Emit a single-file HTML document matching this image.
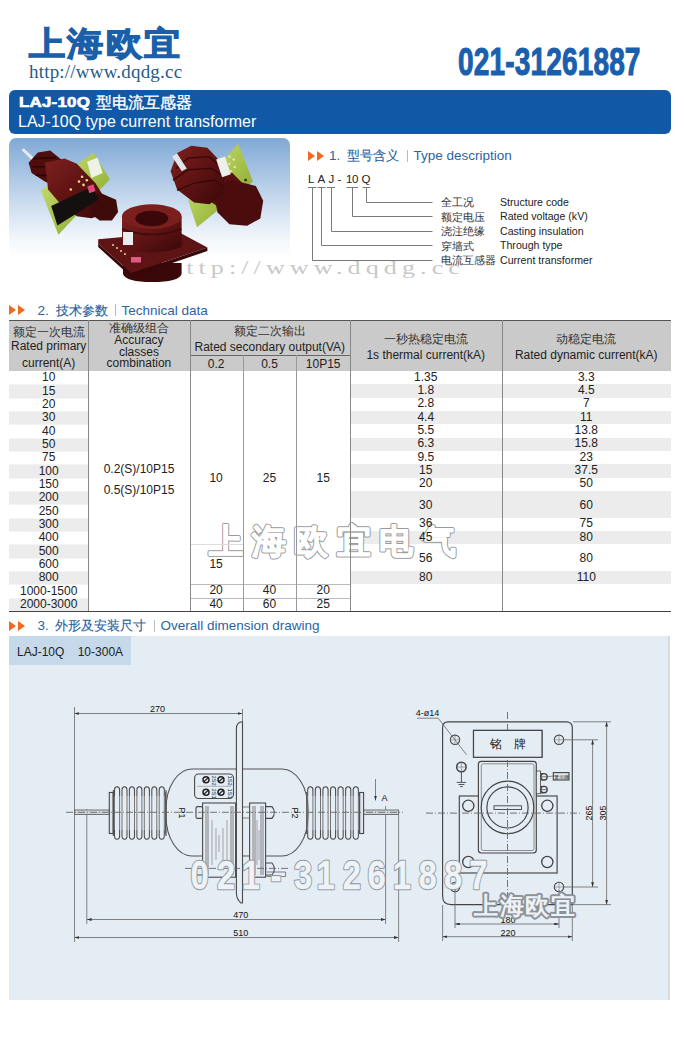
<!DOCTYPE html>
<html><head><meta charset="utf-8">
<style>
*{margin:0;padding:0;box-sizing:border-box}
html,body{width:680px;height:1050px;background:#fff;overflow:hidden}
body{position:relative;font-family:"Liberation Sans",sans-serif;color:#222}
.a{position:absolute;white-space:nowrap}
.c{text-align:center;font-size:12px;color:#222}
#logo{left:29px;top:21.5px;font-size:35px;font-weight:bold;color:#1c5fa9;letter-spacing:2.5px;line-height:46px;transform-origin:0 0;transform:scale(1.02,0.93);-webkit-text-stroke:1.3px #1c5fa9}
#url{left:29px;top:61px;font-family:"Liberation Serif",serif;font-size:19px;color:#2a5a8a;line-height:22px;letter-spacing:0.2px}
#phone{left:457.5px;top:38px;font-size:39.5px;font-weight:bold;color:#1a5fae;line-height:46px;transform-origin:0 0;transform:scaleX(0.71);-webkit-text-stroke:1.1px #1a5fae;letter-spacing:0.2px}
#bar{left:9px;top:90px;width:662px;height:44px;background:#1158a6;border-radius:6px}
#t1{left:18.5px;top:91.5px;font-size:15.5px;font-weight:bold;color:#fff;line-height:20px;letter-spacing:0.2px;-webkit-text-stroke:0.7px #fff;transform-origin:0 0;transform:scaleX(1.09)}
#t1c{left:96px;top:93.3px;font-size:16px;color:#fff;line-height:20px;-webkit-text-stroke:0.35px #fff}
#t2{left:18px;top:112px;font-size:16px;color:#fff;line-height:20px}
.sec{font-size:13.5px;color:#2a64a4;line-height:16px}
.secz{font-size:13.3px;color:#2a5f9e;line-height:16px;-webkit-text-stroke:0.15px #2a5f9e}
.bar1{width:1px;height:12px;background:#b5bcc4}
.arr{position:absolute;width:0;height:0;border-top:5px solid transparent;border-bottom:5px solid transparent;border-left:7.5px solid #f06a20}
.lblz{font-size:10.6px;color:#333;line-height:14px}
.lble{font-size:10.6px;color:#222;line-height:14px}

</style></head><body>
<div class="a" id="logo">上海欧宜</div>
<div class="a" id="url">http://www.dqdg.cc</div>
<div class="a" id="phone">021-31261887</div>
<div class="a" id="bar"></div>
<div class="a" id="t1">LAJ-10Q</div>
<div class="a" id="t1c">型电流互感器</div>
<div class="a" id="t2">LAJ-10Q type current transformer</div>
<div class="a" style="left:9px;top:138px;width:281px;height:120px;border-radius:7px 7px 0 0;background:linear-gradient(#80a9d5 0%,#a9c5e4 30%,#d3e2f1 60%,#f3f7fb 85%,#fff 100%)"></div>
<div class="a" style="left:168px;top:255px;font-family:'Liberation Serif',serif;font-size:18px;color:#c8c8c8;line-height:26px;letter-spacing:3.5px;transform-origin:0 0;transform:scaleX(1.45)">http://www.dqdg.cc</div>
<svg class="a" style="left:0;top:130px" width="300" height="170" viewBox="0 130 300 170">
<defs>
<linearGradient id="rd" x1="0" y1="0" x2="1" y2="1"><stop offset="0" stop-color="#7e2020"/><stop offset="0.45" stop-color="#621414"/><stop offset="1" stop-color="#3a0808"/></linearGradient>
<linearGradient id="rd2" x1="0" y1="0" x2="0" y2="1"><stop offset="0" stop-color="#6e1a1a"/><stop offset="1" stop-color="#3a0808"/></linearGradient>
<linearGradient id="gp" x1="0" y1="0" x2="1" y2="1"><stop offset="0" stop-color="#d4e48a"/><stop offset="0.5" stop-color="#a8c44c"/><stop offset="1" stop-color="#7e9a2a"/></linearGradient>
</defs>
<!-- left transformer -->
<g>
<path d="M40.9 190.5 93.4 152.4 109.9 179.2 58.4 234.8 Z" fill="url(#gp)" />
<path d="M87.2 161.7 97.5 157.6 102.7 173.0 91.4 178.1 Z" fill="#eef2e6" />
<path d="M21.4 149.9 23.8 148.3 35.8 159.6 33.3 161.7 Z" fill="#e2e8ee" />
<path d="M28.6 162.7 37.8 152.4 50.2 150.4 62.5 160.6 65.6 175.1 58.4 184.3 46.1 182.3 31.6 173.0 Z" fill="#4e0e0e" />
<path d="M33.7 158.6 56.4 157.6 M32.7 166.8 60.5 166.8 M35.8 175.1 61.5 176.1" stroke="#2a0505" stroke-width="1.6" fill="none"/>
<path d="M45.0 162.7 64.6 158.6 76.9 163.7 95.5 183.3 105.8 199.8 103.7 214.2 91.4 218.3 76.9 216.2 60.5 203.9 48.1 189.5 Z" fill="url(#rd)" />
<path d="M87.2 195.6 101.6 193.6 116.1 199.8 118.1 212.1 111.9 220.4 99.6 220.4 91.4 214.2 Z" fill="#3e0a0a" />
<path d="M51.2 205.9 92.4 186.4 98.6 199.8 57.4 225.5 Z" fill="#141010" />
<path d="M87.2 186.4 93.4 184.3 95.5 191.1 89.3 193.2 Z" fill="#e04a78" />
<circle cx="82.1" cy="176.7" r="1.3" fill="#f0d890"/>
<circle cx="86.8" cy="180.2" r="1.3" fill="#f0d890"/>
<circle cx="79.0" cy="181.6" r="1.3" fill="#f0d890"/>
<circle cx="83.5" cy="184.9" r="1.3" fill="#f0d890"/>
<circle cx="70.8" cy="189.5" r="1.3" fill="#f0d890"/>
</g>
<!-- right transformer -->
<g>
<path d="M188.2 200.7 238.2 143.4 252.9 181.6 197.1 227.2 Z" fill="url(#gp)" />
<path d="M201.5 185.4 217.9 168.9 232.4 173.0 246.8 187.4 236.5 205.9 220.0 208.0 207.6 199.8 Z" fill="#5a1010"/>
<path d="M211.8 186.0 232.4 180.1 255.9 186.0 263.2 200.7 260.3 218.4 247.1 225.7 229.4 224.2 217.6 212.5 Z" fill="#4a0c0c" />
<path d="M170.6 171.3 177.1 153.1 191.2 145.7 207.4 147.8 217.1 158.1 225.0 177.2 222.1 194.8 209.4 204.2 194.1 202.5 177.1 189.5 Z" fill="url(#rd)" />
<path d="M175.9 168.4 188.2 158.1 208.8 156.6 217.6 163.9 M172.9 180.1 188.2 169.8 211.8 168.4 222.1 175.7 M177.1 190.4 194.1 183.1 214.7 180.1 223.5 187.5" stroke="#3a0808" stroke-width="1.4" fill="none"/>
<path d="M216.2 159.5 225.0 156.6 230.9 174.2 222.1 177.2 Z" fill="#eef0ec" />
<path d="M172.1 156.6 177.1 153.6 186.8 168.4 181.8 171.3 Z" fill="#dfe4e8" />
<circle cx="229.4" cy="156.6" r="1.2" fill="#e8e0c0"/>
<circle cx="233.8" cy="159.5" r="1.2" fill="#e8e0c0"/>
<circle cx="229.4" cy="163.9" r="1.2" fill="#e8e0c0"/>
<circle cx="234.7" cy="166.9" r="1.2" fill="#e8e0c0"/>
<circle cx="230.9" cy="171.3" r="1.2" fill="#e8e0c0"/>
<circle cx="245.6" cy="180.1" r="1.5" fill="#3a3a20"/>
</g>
<!-- center transformer -->
<g>
<path d="M123 263 L123 274 Q126 282 152 282 Q179 282 181.6 274 L181.6 263 Z" fill="#3a0808"/>
<path d="M98.2 239.3 L178.5 232 L207.4 247.5 L131.2 273.2 L98.2 243.4 Z" fill="#5e1414"/>
<path d="M98.2 243.4 L131.2 273.2 L207.4 247.5 L207.4 251 L131.2 277 L98.2 247 Z" fill="#380808"/>
<path d="M122 217 L122 247 Q152 258 181.6 247 L181.6 217 Z" fill="url(#rd)"/>
<path d="M122 229 Q152 240 181.6 229" stroke="#3e0a0a" stroke-width="1.5" fill="none"/>
<ellipse cx="151.8" cy="216.6" rx="29.9" ry="12.4" fill="#7a1e1e"/>
<ellipse cx="151.8" cy="218.5" rx="16.5" ry="7.8" fill="#3a0808"/>
<rect x="123" y="232" width="10" height="13" fill="#e8ecee"/>
<rect x="131" y="257" width="10" height="5.5" fill="#e05a82"/>
<circle cx="113" cy="245" r="1" fill="#e8d0a0"/><circle cx="117" cy="248" r="1" fill="#e8d0a0"/><circle cx="121" cy="251" r="1" fill="#e8d0a0"/><circle cx="125" cy="254" r="1" fill="#e8d0a0"/>
</g>
</svg>
<div class="arr" style="left:308px;top:150.5px"></div><div class="arr" style="left:316.5px;top:150.5px"></div>
<div class="a sec" style="left:329px;top:148px">1.</div>
<div class="a secz" style="left:347px;top:148px">型号含义</div>
<div class="a bar1" style="left:406.5px;top:150px"></div>
<div class="a sec" style="left:413.5px;top:148px">Type description</div>

<div class="arr" style="left:9px;top:304.5px"></div><div class="arr" style="left:17.5px;top:304.5px"></div>
<div class="a sec" style="left:37.5px;top:302.5px">2.</div>
<div class="a secz" style="left:55.5px;top:302.5px">技术参数</div>
<div class="a bar1" style="left:114.5px;top:304px"></div>
<div class="a sec" style="left:121.5px;top:302.5px">Technical data</div>

<div class="arr" style="left:9px;top:620.5px"></div><div class="arr" style="left:17.5px;top:620.5px"></div>
<div class="a sec" style="left:37.5px;top:618px">3.</div>
<div class="a secz" style="left:54.5px;top:618px">外形及安装尺寸</div>
<div class="a bar1" style="left:154px;top:619.5px"></div>
<div class="a sec" style="left:160.5px;top:618px">Overall dimension drawing</div>
<div class="a" style="left:308px;top:172px;font-size:11.5px;color:#222;line-height:14px">L</div>
<div class="a" style="left:317.5px;top:172px;font-size:11.5px;color:#222;line-height:14px">A</div>
<div class="a" style="left:328.5px;top:172px;font-size:11.5px;color:#222;line-height:14px">J</div>
<div class="a" style="left:337.5px;top:172px;font-size:11.5px;color:#222;line-height:14px">-</div>
<div class="a" style="left:346px;top:172px;font-size:11.5px;color:#222;line-height:14px;letter-spacing:-0.3px">10</div>
<div class="a" style="left:361.5px;top:172px;font-size:11.5px;color:#222;line-height:14px">Q</div>
<svg class="a" style="left:0;top:0" width="680" height="300">
<g stroke="#7a7a7a" stroke-width="1" fill="none">
<path d="M308 187.5H316M312.5 187.5V260.5H432.5"/>
<path d="M317.5 187.5H325.5M321.5 187.5V245.5H432.5"/>
<path d="M327 187.5H335M331.5 187.5V231.5H432.5"/>
<path d="M346.5 187.5H358M352.5 187.5V216.5H432.5"/>
<path d="M362.5 187.5H370.5M366.5 187.5V202.5H432.5"/>
</g>
</svg>
<div class="a lblz" style="left:441px;top:195px">全工况</div>
<div class="a lblz" style="left:441px;top:209.5px">额定电压</div>
<div class="a lblz" style="left:441px;top:224px">浇注绝缘</div>
<div class="a lblz" style="left:441px;top:238.5px">穿墙式</div>
<div class="a lblz" style="left:441px;top:253px">电流互感器</div>
<div class="a lble" style="left:500px;top:194.5px">Structure code</div>
<div class="a lble" style="left:500px;top:209px">Rated voltage (kV)</div>
<div class="a lble" style="left:500px;top:223.5px">Casting insulation</div>
<div class="a lble" style="left:500px;top:238px">Through type</div>
<div class="a lble" style="left:500px;top:252.5px">Current transformer</div>
<div class="a" style="left:9px;top:320px;width:662px;height:51px;background:#cacaca"></div>
<div class="a" style="left:9px;top:384.33px;width:79.3px;height:13.33px;background:#ececec"></div>
<div class="a" style="left:9px;top:411.00px;width:79.3px;height:13.33px;background:#ececec"></div>
<div class="a" style="left:9px;top:437.67px;width:79.3px;height:13.33px;background:#ececec"></div>
<div class="a" style="left:9px;top:464.33px;width:79.3px;height:13.33px;background:#ececec"></div>
<div class="a" style="left:9px;top:491.00px;width:79.3px;height:13.33px;background:#ececec"></div>
<div class="a" style="left:9px;top:517.67px;width:79.3px;height:13.33px;background:#ececec"></div>
<div class="a" style="left:9px;top:544.33px;width:79.3px;height:13.33px;background:#ececec"></div>
<div class="a" style="left:9px;top:571.00px;width:79.3px;height:13.33px;background:#ececec"></div>
<div class="a" style="left:9px;top:597.67px;width:79.3px;height:13.33px;background:#ececec"></div>
<div class="a" style="left:350px;top:384.33px;width:321px;height:13.33px;background:#ececec"></div>
<div class="a" style="left:350px;top:411.00px;width:321px;height:13.33px;background:#ececec"></div>
<div class="a" style="left:350px;top:437.67px;width:321px;height:13.33px;background:#ececec"></div>
<div class="a" style="left:350px;top:464.33px;width:321px;height:13.33px;background:#ececec"></div>
<div class="a" style="left:350px;top:491.00px;width:321px;height:26.67px;background:#ececec"></div>
<div class="a" style="left:350px;top:531.00px;width:321px;height:13.33px;background:#ececec"></div>
<div class="a" style="left:350px;top:571.00px;width:321px;height:13.33px;background:#ececec"></div>
<svg class="a" style="left:0;top:500px" width="680" height="80" viewBox="0 500 680 80"><g font-size="34" font-weight="bold" stroke-linejoin="round"><text x="209" y="553" letter-spacing="8.5" fill="#999" stroke="#9a9a9a" stroke-width="3.2">上海欧宜电气</text><text x="209" y="553" letter-spacing="8.5" fill="#fff" stroke="#fff" stroke-width="1.2">上海欧宜电气</text></g></svg>
<div class="a c" style="left:9px;top:371.40px;width:79.3px;height:13.33px;line-height:13.33px">10</div>
<div class="a c" style="left:9px;top:384.73px;width:79.3px;height:13.33px;line-height:13.33px">15</div>
<div class="a c" style="left:9px;top:398.07px;width:79.3px;height:13.33px;line-height:13.33px">20</div>
<div class="a c" style="left:9px;top:411.40px;width:79.3px;height:13.33px;line-height:13.33px">30</div>
<div class="a c" style="left:9px;top:424.73px;width:79.3px;height:13.33px;line-height:13.33px">40</div>
<div class="a c" style="left:9px;top:438.07px;width:79.3px;height:13.33px;line-height:13.33px">50</div>
<div class="a c" style="left:9px;top:451.40px;width:79.3px;height:13.33px;line-height:13.33px">75</div>
<div class="a c" style="left:9px;top:464.73px;width:79.3px;height:13.33px;line-height:13.33px">100</div>
<div class="a c" style="left:9px;top:478.07px;width:79.3px;height:13.33px;line-height:13.33px">150</div>
<div class="a c" style="left:9px;top:491.40px;width:79.3px;height:13.33px;line-height:13.33px">200</div>
<div class="a c" style="left:9px;top:504.73px;width:79.3px;height:13.33px;line-height:13.33px">250</div>
<div class="a c" style="left:9px;top:518.07px;width:79.3px;height:13.33px;line-height:13.33px">300</div>
<div class="a c" style="left:9px;top:531.40px;width:79.3px;height:13.33px;line-height:13.33px">400</div>
<div class="a c" style="left:9px;top:544.73px;width:79.3px;height:13.33px;line-height:13.33px">500</div>
<div class="a c" style="left:9px;top:558.07px;width:79.3px;height:13.33px;line-height:13.33px">600</div>
<div class="a c" style="left:9px;top:571.40px;width:79.3px;height:13.33px;line-height:13.33px">800</div>
<div class="a c" style="left:9px;top:584.73px;width:79.3px;height:13.33px;line-height:13.33px">1000-1500</div>
<div class="a c" style="left:9px;top:598.07px;width:79.3px;height:13.33px;line-height:13.33px">2000-3000</div>
<div class="a c" style="left:350px;top:370.80px;width:151.5px;height:13.33px;line-height:13.33px">1.35</div>
<div class="a c" style="left:501.5px;top:370.80px;width:169.5px;height:13.33px;line-height:13.33px">3.3</div>
<div class="a c" style="left:350px;top:384.13px;width:151.5px;height:13.33px;line-height:13.33px">1.8</div>
<div class="a c" style="left:501.5px;top:384.13px;width:169.5px;height:13.33px;line-height:13.33px">4.5</div>
<div class="a c" style="left:350px;top:397.47px;width:151.5px;height:13.33px;line-height:13.33px">2.8</div>
<div class="a c" style="left:501.5px;top:397.47px;width:169.5px;height:13.33px;line-height:13.33px">7</div>
<div class="a c" style="left:350px;top:410.80px;width:151.5px;height:13.33px;line-height:13.33px">4.4</div>
<div class="a c" style="left:501.5px;top:410.80px;width:169.5px;height:13.33px;line-height:13.33px">11</div>
<div class="a c" style="left:350px;top:424.13px;width:151.5px;height:13.33px;line-height:13.33px">5.5</div>
<div class="a c" style="left:501.5px;top:424.13px;width:169.5px;height:13.33px;line-height:13.33px">13.8</div>
<div class="a c" style="left:350px;top:437.47px;width:151.5px;height:13.33px;line-height:13.33px">6.3</div>
<div class="a c" style="left:501.5px;top:437.47px;width:169.5px;height:13.33px;line-height:13.33px">15.8</div>
<div class="a c" style="left:350px;top:450.80px;width:151.5px;height:13.33px;line-height:13.33px">9.5</div>
<div class="a c" style="left:501.5px;top:450.80px;width:169.5px;height:13.33px;line-height:13.33px">23</div>
<div class="a c" style="left:350px;top:464.13px;width:151.5px;height:13.33px;line-height:13.33px">15</div>
<div class="a c" style="left:501.5px;top:464.13px;width:169.5px;height:13.33px;line-height:13.33px">37.5</div>
<div class="a c" style="left:350px;top:477.47px;width:151.5px;height:13.33px;line-height:13.33px">20</div>
<div class="a c" style="left:501.5px;top:477.47px;width:169.5px;height:13.33px;line-height:13.33px">50</div>
<div class="a c" style="left:350px;top:492.00px;width:151.5px;height:26.67px;line-height:26.67px">30</div>
<div class="a c" style="left:501.5px;top:492.00px;width:169.5px;height:26.67px;line-height:26.67px">60</div>
<div class="a c" style="left:350px;top:517.47px;width:151.5px;height:13.33px;line-height:13.33px">36</div>
<div class="a c" style="left:501.5px;top:517.47px;width:169.5px;height:13.33px;line-height:13.33px">75</div>
<div class="a c" style="left:350px;top:530.80px;width:151.5px;height:13.33px;line-height:13.33px">45</div>
<div class="a c" style="left:501.5px;top:530.80px;width:169.5px;height:13.33px;line-height:13.33px">80</div>
<div class="a c" style="left:350px;top:545.33px;width:151.5px;height:26.67px;line-height:26.67px">56</div>
<div class="a c" style="left:501.5px;top:545.33px;width:169.5px;height:26.67px;line-height:26.67px">80</div>
<div class="a c" style="left:350px;top:570.80px;width:151.5px;height:13.33px;line-height:13.33px">80</div>
<div class="a c" style="left:501.5px;top:570.80px;width:169.5px;height:13.33px;line-height:13.33px">110</div>
<div class="a" style="left:9px;top:384.33px;width:79.3px;height:1px;background:#f4f4f4"></div>
<div class="a" style="left:9px;top:397.67px;width:79.3px;height:1px;background:#f4f4f4"></div>
<div class="a" style="left:9px;top:411.00px;width:79.3px;height:1px;background:#f4f4f4"></div>
<div class="a" style="left:9px;top:424.33px;width:79.3px;height:1px;background:#f4f4f4"></div>
<div class="a" style="left:9px;top:437.67px;width:79.3px;height:1px;background:#f4f4f4"></div>
<div class="a" style="left:9px;top:451.00px;width:79.3px;height:1px;background:#f4f4f4"></div>
<div class="a" style="left:9px;top:464.33px;width:79.3px;height:1px;background:#f4f4f4"></div>
<div class="a" style="left:9px;top:477.67px;width:79.3px;height:1px;background:#f4f4f4"></div>
<div class="a" style="left:9px;top:491.00px;width:79.3px;height:1px;background:#f4f4f4"></div>
<div class="a" style="left:9px;top:504.33px;width:79.3px;height:1px;background:#f4f4f4"></div>
<div class="a" style="left:9px;top:517.67px;width:79.3px;height:1px;background:#f4f4f4"></div>
<div class="a" style="left:9px;top:531.00px;width:79.3px;height:1px;background:#f4f4f4"></div>
<div class="a" style="left:9px;top:544.33px;width:79.3px;height:1px;background:#f4f4f4"></div>
<div class="a" style="left:9px;top:557.67px;width:79.3px;height:1px;background:#f4f4f4"></div>
<div class="a" style="left:9px;top:571.00px;width:79.3px;height:1px;background:#f4f4f4"></div>
<div class="a" style="left:9px;top:584.33px;width:79.3px;height:1px;background:#f4f4f4"></div>
<div class="a" style="left:9px;top:597.67px;width:79.3px;height:1px;background:#f4f4f4"></div>
<div class="a c" style="left:89px;top:462px;width:100px;line-height:14px">0.2(S)/10P15</div>
<div class="a c" style="left:89px;top:483px;width:100px;line-height:14px">0.5(S)/10P15</div>
<div class="a c" style="left:189.5px;top:471px;width:53.2px;line-height:14px">10</div>
<div class="a c" style="left:242.7px;top:471px;width:53.7px;line-height:14px">25</div>
<div class="a c" style="left:296.4px;top:471px;width:53.6px;line-height:14px">15</div>
<div class="a c" style="left:189.5px;top:557px;width:53.2px;line-height:14px">15</div>
<div class="a" style="left:189.5px;top:544px;width:53.2px;height:1px;background:#ddd"></div>
<div class="a" style="left:189.5px;top:584.0px;width:160.5px;height:1px;background:#bbb"></div>
<div class="a" style="left:189.5px;top:597.5px;width:160.5px;height:1px;background:#bbb"></div>
<div class="a c" style="left:189.5px;top:584.30px;width:53.2px;height:13.33px;line-height:13.33px">20</div>
<div class="a c" style="left:242.7px;top:584.30px;width:53.7px;height:13.33px;line-height:13.33px">40</div>
<div class="a c" style="left:296.4px;top:584.30px;width:53.6px;height:13.33px;line-height:13.33px">20</div>
<div class="a c" style="left:189.5px;top:597.80px;width:53.2px;height:13.33px;line-height:13.33px">40</div>
<div class="a c" style="left:242.7px;top:597.80px;width:53.7px;height:13.33px;line-height:13.33px">60</div>
<div class="a c" style="left:296.4px;top:597.80px;width:53.6px;height:13.33px;line-height:13.33px">25</div>
<div class="a c" style="left:9.0px;top:324.5px;width:79.3px;line-height:14px;color:#333">额定一次电流</div>
<div class="a c" style="left:9.0px;top:339.0px;width:79.3px;line-height:14px">Rated primary</div>
<div class="a c" style="left:9.0px;top:355.5px;width:79.3px;line-height:14px">current(A)</div>
<div class="a c" style="left:88.3px;top:321.0px;width:101.2px;line-height:14px;color:#333">准确级组合</div>
<div class="a c" style="left:88.3px;top:333.0px;width:101.2px;line-height:14px">Accuracy</div>
<div class="a c" style="left:88.3px;top:344.5px;width:101.2px;line-height:14px">classes</div>
<div class="a c" style="left:88.3px;top:356.0px;width:101.2px;line-height:14px">combination</div>
<div class="a c" style="left:189.5px;top:323.5px;width:160.5px;line-height:14px;color:#333">额定二次输出</div>
<div class="a c" style="left:189.5px;top:339.5px;width:160.5px;line-height:14px">Rated secondary output(VA)</div>
<div class="a c" style="left:189.5px;top:357.0px;width:53.2px;line-height:14px">0.2</div>
<div class="a c" style="left:242.7px;top:357.0px;width:53.7px;line-height:14px">0.5</div>
<div class="a c" style="left:296.4px;top:357.0px;width:53.6px;line-height:14px">10P15</div>
<div class="a c" style="left:350.0px;top:332.0px;width:151.5px;line-height:14px;color:#333">一秒热稳定电流</div>
<div class="a c" style="left:350.0px;top:347.5px;width:151.5px;line-height:14px">1s thermal current(kA)</div>
<div class="a c" style="left:501.5px;top:332.0px;width:169.5px;line-height:14px;color:#333">动稳定电流</div>
<div class="a c" style="left:501.5px;top:347.5px;width:169.5px;line-height:14px">Rated dynamic current(kA)</div>
<div class="a" style="left:9px;top:319.5px;width:662px;height:1.2px;background:#555"></div>
<div class="a" style="left:9px;top:610.5px;width:662px;height:1.5px;background:#444"></div>
<div class="a" style="left:189.5px;top:355px;width:160.5px;height:1px;background:#666"></div>
<div class="a" style="left:88.3px;top:320px;width:1px;height:291px;background:#888"></div>
<div class="a" style="left:189.5px;top:320px;width:1px;height:291px;background:#888"></div>
<div class="a" style="left:350.0px;top:320px;width:1px;height:291px;background:#888"></div>
<div class="a" style="left:501.5px;top:320px;width:1px;height:291px;background:#888"></div>
<div class="a" style="left:242.7px;top:355px;width:1px;height:256px;background:#999"></div>
<div class="a" style="left:296.4px;top:355px;width:1px;height:256px;background:#999"></div><div class="a" style="left:9px;top:636px;width:661px;height:364px;background:#e4ecf4;border-right:2px solid #d3dbe3"></div>
<div class="a" style="left:9px;top:636px;width:122px;height:29px;background:#c6d9ea"></div>
<div class="a" style="left:17px;top:645px;font-size:12px;color:#222;line-height:15px">LAJ-10Q&nbsp;&nbsp;&nbsp;&nbsp;10-300A</div>
<svg class="a" style="left:0;top:680px" width="680" height="300" viewBox="0 680 680 300">
<defs>
<marker id="ar" viewBox="0 0 10 6" refX="10" refY="3" markerWidth="6" markerHeight="3.6" orient="auto-start-reverse"><path d="M0 0L10 3L0 6Z" fill="#333"/></marker>
</defs>
<g fill="none" stroke="#4a4a4a" stroke-width="1.1">
<!-- dimension 270 -->
<line x1="74.5" y1="713.5" x2="242.5" y2="713.5" stroke="#666" stroke-width="0.8" marker-start="url(#ar)" marker-end="url(#ar)"/>
<line x1="74.5" y1="707" x2="74.5" y2="942" stroke="#777" stroke-width="0.9"/>
<line x1="242.5" y1="709" x2="242.5" y2="722" stroke="#777" stroke-width="0.9"/>
<!-- extension lines -->
<line x1="86.8" y1="809" x2="86.8" y2="924" stroke="#777" stroke-width="0.9"/>
<line x1="385.6" y1="806" x2="385.6" y2="924" stroke="#777" stroke-width="0.9"/>
<line x1="398.6" y1="815" x2="398.6" y2="942" stroke="#777" stroke-width="0.9"/>
<!-- dims 470 510 -->
<line x1="86.8" y1="919.5" x2="385.6" y2="919.5" stroke="#666" stroke-width="0.8" marker-start="url(#ar)" marker-end="url(#ar)"/>
<line x1="74.5" y1="937.5" x2="398.6" y2="937.5" stroke="#666" stroke-width="0.8" marker-start="url(#ar)" marker-end="url(#ar)"/>
<!-- rods -->
<rect x="74.5" y="810" width="35" height="4.5" fill="#cfd5dc" stroke="#666" stroke-width="0.9"/>
<rect x="363.6" y="810" width="35" height="4.5" fill="#cfd5dc" stroke="#666" stroke-width="0.9"/>
<!-- end plates -->
<rect x="109.3" y="792.5" width="4" height="41" fill="#dde4ec"/>
<rect x="359.6" y="792.5" width="4" height="41" fill="#dde4ec"/>
<!-- body -->
<rect x="166" y="769" width="142" height="87" rx="26" ry="40" fill="#e4ecf4" stroke="#555"/>
<!-- bellows left -->
<path d="M113.3 790 L113.3 836 M166 790 L166 836" />
</g>
<g id="bellowsL" fill="none" stroke="#4a4a4a" stroke-width="1.05"><path d="M114.5 796 L114.5 790 Q114.5 786.8 117.0 786.8 Q119.6 786.8 119.6 790 L119.6 796"/><path d="M114.5 830 L114.5 836 Q114.5 839.3 117.0 839.3 Q119.6 839.3 119.6 836 L119.6 830"/><path d="M114.5 796 V830 M119.6 796 V830" stroke="#666" stroke-width="0.9"/><path d="M122.0 796 L122.0 790 Q122.0 786.8 124.5 786.8 Q127.0 786.8 127.0 790 L127.0 796"/><path d="M122.0 830 L122.0 836 Q122.0 839.3 124.5 839.3 Q127.0 839.3 127.0 836 L127.0 830"/><path d="M122.0 796 V830 M127.0 796 V830" stroke="#666" stroke-width="0.9"/><path d="M129.4 796 L129.4 790 Q129.4 786.8 131.9 786.8 Q134.5 786.8 134.5 790 L134.5 796"/><path d="M129.4 830 L129.4 836 Q129.4 839.3 131.9 839.3 Q134.5 839.3 134.5 836 L134.5 830"/><path d="M129.4 796 V830 M134.5 796 V830" stroke="#666" stroke-width="0.9"/><path d="M136.9 796 L136.9 790 Q136.9 786.8 139.4 786.8 Q141.9 786.8 141.9 790 L141.9 796"/><path d="M136.9 830 L136.9 836 Q136.9 839.3 139.4 839.3 Q141.9 839.3 141.9 836 L141.9 830"/><path d="M136.9 796 V830 M141.9 796 V830" stroke="#666" stroke-width="0.9"/><path d="M144.3 796 L144.3 790 Q144.3 786.8 146.9 786.8 Q149.4 786.8 149.4 790 L149.4 796"/><path d="M144.3 830 L144.3 836 Q144.3 839.3 146.9 839.3 Q149.4 839.3 149.4 836 L149.4 830"/><path d="M144.3 796 V830 M149.4 796 V830" stroke="#666" stroke-width="0.9"/><path d="M151.8 796 L151.8 790 Q151.8 786.8 154.3 786.8 Q156.8 786.8 156.8 790 L156.8 796"/><path d="M151.8 830 L151.8 836 Q151.8 839.3 154.3 839.3 Q156.8 839.3 156.8 836 L156.8 830"/><path d="M151.8 796 V830 M156.8 796 V830" stroke="#666" stroke-width="0.9"/><path d="M159.2 796 L159.2 790 Q159.2 786.8 161.8 786.8 Q164.3 786.8 164.3 790 L164.3 796"/><path d="M159.2 830 L159.2 836 Q159.2 839.3 161.8 839.3 Q164.3 839.3 164.3 836 L164.3 830"/><path d="M159.2 796 V830 M164.3 796 V830" stroke="#666" stroke-width="0.9"/><path d="M113.3 792 V834 M165.5 792 V834" stroke="#555" stroke-width="0.9"/><path d="M307.7 796 L307.7 790 Q307.7 786.8 310.3 786.8 Q312.9 786.8 312.9 790 L312.9 796"/><path d="M307.7 830 L307.7 836 Q307.7 839.3 310.3 839.3 Q312.9 839.3 312.9 836 L312.9 830"/><path d="M307.7 796 V830 M312.9 796 V830" stroke="#666" stroke-width="0.9"/><path d="M315.3 796 L315.3 790 Q315.3 786.8 317.9 786.8 Q320.5 786.8 320.5 790 L320.5 796"/><path d="M315.3 830 L315.3 836 Q315.3 839.3 317.9 839.3 Q320.5 839.3 320.5 836 L320.5 830"/><path d="M315.3 796 V830 M320.5 796 V830" stroke="#666" stroke-width="0.9"/><path d="M322.9 796 L322.9 790 Q322.9 786.8 325.5 786.8 Q328.1 786.8 328.1 790 L328.1 796"/><path d="M322.9 830 L322.9 836 Q322.9 839.3 325.5 839.3 Q328.1 839.3 328.1 836 L328.1 830"/><path d="M322.9 796 V830 M328.1 796 V830" stroke="#666" stroke-width="0.9"/><path d="M330.5 796 L330.5 790 Q330.5 786.8 333.1 786.8 Q335.6 786.8 335.6 790 L335.6 796"/><path d="M330.5 830 L330.5 836 Q330.5 839.3 333.1 839.3 Q335.6 839.3 335.6 836 L335.6 830"/><path d="M330.5 796 V830 M335.6 796 V830" stroke="#666" stroke-width="0.9"/><path d="M338.0 796 L338.0 790 Q338.0 786.8 340.6 786.8 Q343.2 786.8 343.2 790 L343.2 796"/><path d="M338.0 830 L338.0 836 Q338.0 839.3 340.6 839.3 Q343.2 839.3 343.2 836 L343.2 830"/><path d="M338.0 796 V830 M343.2 796 V830" stroke="#666" stroke-width="0.9"/><path d="M345.6 796 L345.6 790 Q345.6 786.8 348.2 786.8 Q350.8 786.8 350.8 790 L350.8 796"/><path d="M345.6 830 L345.6 836 Q345.6 839.3 348.2 839.3 Q350.8 839.3 350.8 836 L350.8 830"/><path d="M345.6 796 V830 M350.8 796 V830" stroke="#666" stroke-width="0.9"/><path d="M353.2 796 L353.2 790 Q353.2 786.8 355.8 786.8 Q358.4 786.8 358.4 790 L358.4 796"/><path d="M353.2 830 L353.2 836 Q353.2 839.3 355.8 839.3 Q358.4 839.3 358.4 836 L358.4 830"/><path d="M353.2 796 V830 M358.4 796 V830" stroke="#666" stroke-width="0.9"/><path d="M306.5 792 V834 M359.6 792 V834" stroke="#555" stroke-width="0.9"/></g>
<g fill="none" stroke="#4a4a4a" stroke-width="1.1">
<!-- plate -->
<path d="M242.5 721.8 L242.5 903 L241 903 Q236.4 899 236.4 893 L236.4 729 Q236.4 721.8 242.5 721.8 Z" fill="#e4ecf4"/>
<!-- nameplate -->
<rect x="194.6" y="774" width="38.9" height="24.5" rx="4" ry="4" fill="#e4ecf4"/>
<line x1="197" y1="786.3" x2="231" y2="786.3" stroke="#888" stroke-width="0.6"/>
<g stroke="#222" stroke-width="1.5">
<circle cx="206" cy="779.8" r="3"/><circle cx="221" cy="779.8" r="3"/><circle cx="206" cy="792.2" r="3"/><circle cx="221" cy="792.2" r="3"/>
<path d="M203.5 782 L208.5 777.5 M218.5 782 L223.5 777.5 M203.5 794.5 L208.5 790 M218.5 794.5 L223.5 790" stroke-width="1.1"/>
</g>
<!-- clamps -->
<rect x="202.6" y="803" width="33" height="74.2" fill="#e4ecf4"/>
<rect x="249.6" y="803" width="16" height="74.2" fill="#e4ecf4"/>
<path d="M206 806 V875 M208 806 V875 M231 806 V875 M233 806 V875" stroke="#666" stroke-width="0.8"/>
<path d="M212 820 V865 M216 828 V860 M219 835 V852 M223 828 V862 M227 820 V866" stroke="#777" stroke-width="0.6"/>
<path d="M253 806 V875 M255 806 V875 M261 806 V875 M263 806 V875" stroke="#666" stroke-width="0.8"/>
<path d="M257 820 V865 M259 830 V860" stroke="#777" stroke-width="0.6"/>
<!-- bolts -->
<rect x="196" y="806.6" width="6.6" height="11.8" rx="1.5" fill="#e4ecf4"/>
<rect x="196" y="863" width="6.6" height="12" rx="1.5" fill="#e4ecf4"/>
<path d="M265.6 806.6 H272 Q276.8 812.5 272 818.4 H265.6 Z" fill="#e4ecf4"/>
<path d="M265.6 863 H272 Q276.8 869 272 875 H265.6 Z" fill="#e4ecf4"/>
<path d="M243 807 H249.6 M243 818 H249.6" stroke="#666" stroke-width="0.8"/>
<path d="M266.5 872 H285.6 V876.5 H266.5" stroke="#666" stroke-width="0.8"/>
<!-- A arrow -->
<line x1="375.5" y1="779" x2="375.5" y2="800.5" stroke="#666" stroke-width="0.8" marker-end="url(#ar)"/>
</g>
<!-- axis lines -->
<g stroke="#666" stroke-width="0.9" stroke-dasharray="7 2 1 2" fill="none">
<line x1="66" y1="812.3" x2="403" y2="812.3"/>
<line x1="185" y1="868.4" x2="290" y2="868.4"/>
</g>
<g font-family="Liberation Sans, sans-serif" fill="#111" font-size="9" text-anchor="middle">
<text x="157.5" y="712">270</text>
<text x="240.8" y="918">470</text>
<text x="240.8" y="936">510</text>
<text x="384.6" y="801" font-size="9">A</text>
<text transform="translate(179 813) rotate(90)" font-size="9">P1</text>
<text transform="translate(292 813) rotate(90)" font-size="9">P2</text>
<g font-size="5.8" text-anchor="start" fill="#222"><text transform="translate(211.5 775.5) rotate(90)">2S2</text><text transform="translate(211.5 788.5) rotate(90)">2S1</text><text transform="translate(227.5 775.5) rotate(90)">1S2</text><text transform="translate(227.5 788.5) rotate(90)">1S1</text></g>
</g>

<!-- right view -->
<g fill="none" stroke="#444" stroke-width="1.15">
<path d="M448 721.8 H566.3 Q572.3 721.8 572.3 727.8 V904.6 H451 Q442.6 904.6 442.6 896 V727.5 Q442.6 721.8 448 721.8 Z" fill="#e4ecf4"/>
<rect x="473.5" y="730.4" width="68.5" height="26.9" fill="#e4ecf4"/>
<rect x="459.3" y="796" width="97.8" height="77" fill="#e4ecf4"/>
<rect x="478.4" y="761.3" width="57.9" height="91.7" rx="3" fill="#e4ecf4"/>
<rect x="481.3" y="763.8" width="52.7" height="86.7" rx="2" stroke="#777" stroke-width="0.8"/>
<rect x="536.3" y="771" width="4.1" height="22.7" fill="#e4ecf4" stroke-width="0.8"/>
<path d="M540.4 773.5 H543 M540.4 780 H543 M540.4 786.4 H543 M540.4 792.9 H543" stroke-width="1"/><circle cx="544" cy="776.8" r="3.2" stroke-width="1.4"/><circle cx="544" cy="789.6" r="3.2" stroke-width="1.4"/><path d="M541 776.8 H547 M541 789.6 H547" stroke-width="0.7"/>
<rect x="553.3" y="772.6" width="15.7" height="7.4" stroke-width="1.1" fill="#dfe5ec"/><path d="M547 776.8 L553.3 776" stroke-width="0.6"/>
<circle cx="507.5" cy="807.4" r="26.3" fill="#e4ecf4"/>
<circle cx="507.5" cy="807.4" r="20.6"/>
<rect x="494" y="805.8" width="27.5" height="3.7" stroke-width="0.9"/>
<g stroke-width="1.1">
<circle cx="455" cy="739.8" r="4.7"/><circle cx="559" cy="739.8" r="4.7"/>
<circle cx="455" cy="887" r="4.7"/><circle cx="559" cy="887" r="4.7"/>
<circle cx="461.4" cy="767" r="4.7" stroke-width="1.6"/>
<circle cx="468.3" cy="805.8" r="5.6" stroke-width="1.3"/><circle cx="547.3" cy="805.8" r="5.6" stroke-width="1.3"/>
<circle cx="468.3" cy="862" r="5.6" stroke-width="1.3"/><circle cx="547.3" cy="862" r="5.6" stroke-width="1.3"/>
</g>
<path d="M461.4 771.7 V782.4 M456.7 782.4 H466.1 M458.4 784.5 H464.4 M460 786.6 H462.8" stroke-width="0.9"/>
<path d="M438.2 718.2 L466.5 754.7 M417 718.2 H438.2" stroke="#666" stroke-width="0.8"/>
<path d="M450 739.8 H460 M455 734.8 V744.8 M554 739.8 H564 M559 734.8 V744.8 M450 887 H460 M455 882 V892 M554 887 H564 M559 882 V892 M456.4 767 H466.4 M461.4 762 V772" stroke="#777" stroke-width="0.6"/>
</g>
<g stroke="#666" stroke-width="0.8" fill="none">
<line x1="455" y1="890" x2="455" y2="928"/><line x1="559" y1="890" x2="559" y2="928"/>
<line x1="442.6" y1="905" x2="442.6" y2="941"/><line x1="572.3" y1="905" x2="572.3" y2="941"/>
<line x1="573" y1="721.8" x2="611" y2="721.8"/><line x1="564" y1="739.8" x2="598" y2="739.8"/>
<line x1="564" y1="887" x2="598" y2="887"/><line x1="573" y1="904.6" x2="611" y2="904.6"/>
<line x1="455" y1="924" x2="559" y2="924" marker-start="url(#ar)" marker-end="url(#ar)"/>
<line x1="442.6" y1="936.7" x2="572.3" y2="936.7" marker-start="url(#ar)" marker-end="url(#ar)"/>
<line x1="592.6" y1="739.8" x2="592.6" y2="887" marker-start="url(#ar)" marker-end="url(#ar)"/>
<line x1="606.6" y1="721.8" x2="606.6" y2="904.6" marker-start="url(#ar)" marker-end="url(#ar)"/>
</g>
<g stroke="#666" stroke-width="0.9" stroke-dasharray="7 2 1 2" fill="none">
<line x1="507.5" y1="712" x2="507.5" y2="915"/>
<line x1="426" y1="813.1" x2="582" y2="813.1"/>
</g>
<rect x="473.5" y="730.4" width="68.5" height="26.9" fill="#e4ecf4" stroke="#444" stroke-width="1.15"/>
<g font-family="Liberation Sans, sans-serif" fill="#111" font-size="9" text-anchor="middle">
<text x="508" y="923">180</text>
<text x="508" y="936">220</text>
<text transform="translate(591.5 813) rotate(-90)">265</text>
<text transform="translate(605.5 813) rotate(-90)">305</text>
<text x="427.6" y="716" font-size="9">4-ø14</text>
<text x="496" y="748" font-size="11.5" fill="#222">铭</text>
<text x="520" y="748" font-size="11.5" fill="#222">牌</text>
<text x="561.2" y="778.6" font-size="4.5">警示牌</text>
</g>
<g font-family="Liberation Sans, sans-serif" font-weight="bold" font-size="41" text-anchor="middle" fill="#8f959c" stroke="#8f959c" stroke-width="2.4" stroke-linejoin="round"><text transform="translate(199.7 888.8) scale(0.8 1)">0</text><text transform="translate(226.2 888.8) scale(0.8 1)">2</text><text transform="translate(250.9 888.8) scale(0.8 1)">1</text><text transform="translate(276 888.8) scale(0.8 1)">-</text><text transform="translate(303.2 888.8) scale(0.8 1)">3</text><text transform="translate(325.5 888.8) scale(0.8 1)">1</text><text transform="translate(351.8 888.8) scale(0.8 1)">2</text><text transform="translate(376.5 888.8) scale(0.8 1)">6</text><text transform="translate(401.8 888.8) scale(0.8 1)">1</text><text transform="translate(427.7 888.8) scale(0.8 1)">8</text><text transform="translate(453 888.8) scale(0.8 1)">8</text><text transform="translate(478.3 888.8) scale(0.8 1)">7</text></g><g font-family="Liberation Sans, sans-serif" font-weight="bold" font-size="41" text-anchor="middle" fill="#eef3f8" stroke="#eef3f8" stroke-width="0.3" stroke-linejoin="round"><text transform="translate(199.7 888.8) scale(0.8 1)">0</text><text transform="translate(226.2 888.8) scale(0.8 1)">2</text><text transform="translate(250.9 888.8) scale(0.8 1)">1</text><text transform="translate(276 888.8) scale(0.8 1)">-</text><text transform="translate(303.2 888.8) scale(0.8 1)">3</text><text transform="translate(325.5 888.8) scale(0.8 1)">1</text><text transform="translate(351.8 888.8) scale(0.8 1)">2</text><text transform="translate(376.5 888.8) scale(0.8 1)">6</text><text transform="translate(401.8 888.8) scale(0.8 1)">1</text><text transform="translate(427.7 888.8) scale(0.8 1)">8</text><text transform="translate(453 888.8) scale(0.8 1)">8</text><text transform="translate(478.3 888.8) scale(0.8 1)">7</text></g>
<g font-size="24" font-weight="bold" fill="#eef2f6" stroke="#8c9299" stroke-width="4" stroke-linejoin="round" paint-order="stroke"><text x="474" y="914" letter-spacing="1.5">上海欧宜</text></g>
</svg>

</body></html>
